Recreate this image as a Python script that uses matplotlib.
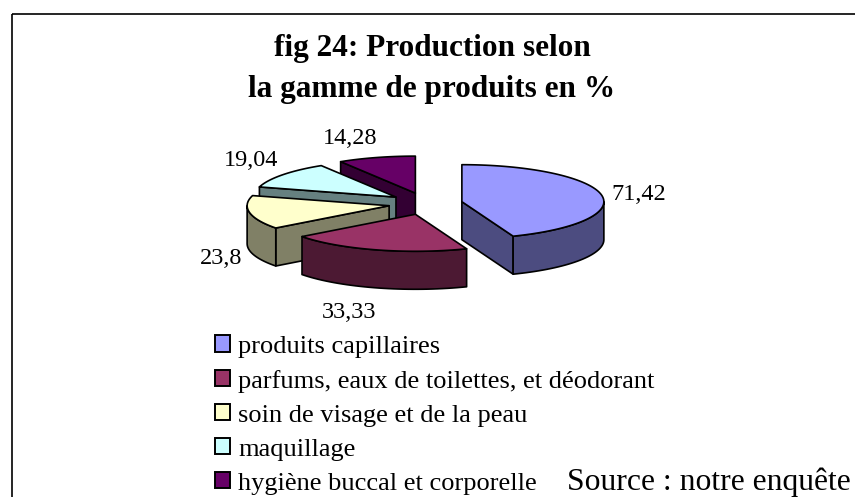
import numpy as np
import matplotlib
matplotlib.use("Agg")
import matplotlib.pyplot as plt
from matplotlib.patches import Patch, Polygon, Rectangle
from matplotlib.transforms import Affine2D

categories = ["produits capillaires", "parfums, eaux de toilettes, et déodorant",
              "soin de visage et de la peau", "maquillage", "hygiène buccal et corporelle"]
values = [71.42, 33.33, 23.8, 19.04, 14.28]
value_labels = ["71,42", "33,33", "23,8", "19,04", "14,28"]
top_colors = ["#9999FF", "#993366", "#FFFFCC", "#CCFFFF", "#660066"]
side_colors = ["#4C4C80", "#4C1933", "#808066", "#668080", "#330033"]
title_lines = "fig 24: Production selon\nla gamme de produits en %"
source_text = "Source : notre enquête"

W, H = 855, 497
CX, CY, A, B = 425.5, 203.7, 142.0, 37.0
DEPTH = 38.0 / B
EXPLODE_X, EXPLODE_Y = 37.0 / A, 11.0 / B

plt.rcParams["font.family"] = ["Liberation Serif", "DejaVu Serif"]
fig = plt.figure(figsize=(W / 100, H / 100), dpi=100, facecolor="white")
ax = fig.add_axes([0, 0, 1, 1])
ax.set_xlim(-CX / A, (W - CX) / A)
ax.set_ylim((CY - H) / B, CY / B)
ax.axis("off")
px = Affine2D().scale(1 / W, -1 / H).translate(0, 1) + fig.transFigure

ax.add_patch(Rectangle((11.5, 13.5), 860, 520, transform=px, fill=False, ec="black", lw=1.2, clip_on=False))

total = sum(values)
edges = np.concatenate([[0], np.cumsum(values)]) / total * 2 * np.pi


def arc(t0, t1, dx, dy, drop=0.0):
    t = np.linspace(t0, t1, max(int((t1 - t0) * 30), 2))
    return np.column_stack([dx + np.sin(t), dy + np.cos(t) - drop])


style = dict(ec="black", lw=1.2, joinstyle="round")
for i in range(len(values) - 1, -1, -1):
    t0, t1 = edges[i], edges[i + 1]
    mid = (t0 + t1) / 2
    dx, dy = EXPLODE_X * np.sin(mid), EXPLODE_Y * np.cos(mid)
    apex = np.array([dx, dy])
    down = np.array([0, -DEPTH])
    for t, visible in ((t0, np.sin(t0) < -1e-6), (t1, np.sin(t1) > 1e-6)):
        if visible:
            rim = apex + [np.sin(t), np.cos(t)]
            ax.add_patch(Polygon([apex, rim, rim + down, apex + down], fc=side_colors[i], **style))
    a0, a1 = max(t0, np.pi / 2), min(t1, 3 * np.pi / 2)
    if a1 > a0:
        top = arc(a0, a1, dx, dy)
        low = arc(a0, a1, dx, dy, DEPTH)[::-1]
        ax.add_patch(Polygon(np.vstack([top, low]), fc=side_colors[i], **style))
    ax.add_patch(Polygon(np.vstack([apex, arc(t0, t1, dx, dy)]), fc=top_colors[i], **style))

label_px = [(638.5, 195), (349, 312), (221, 259), (251.5, 161), (350, 139)]
for (x, y), s in zip(label_px, value_labels):
    ax.text(x, y, s, transform=px, ha="center", va="center", fontsize=17.5, color="black")

ax.text(432, 69, title_lines, transform=px, ha="center", va="center", fontsize=22.5,
        fontweight="bold", color="black", linespacing=1.53)

handles = [Patch(fc=c, ec="black", lw=1.4) for c in top_colors]
ax.legend(handles, categories, loc="upper left", bbox_to_anchor=(196.5 / W, 1 - 317 / H), frameon=False,
          fontsize=19, labelspacing=0.44, handlelength=0.57, handleheight=0.57, handletextpad=0.3,
          borderpad=0.2, labelcolor="black")

ax.text(851, 482, source_text, transform=px, ha="right", va="center", fontsize=22.8, color="black")

fig.savefig("out.png", dpi=100)
